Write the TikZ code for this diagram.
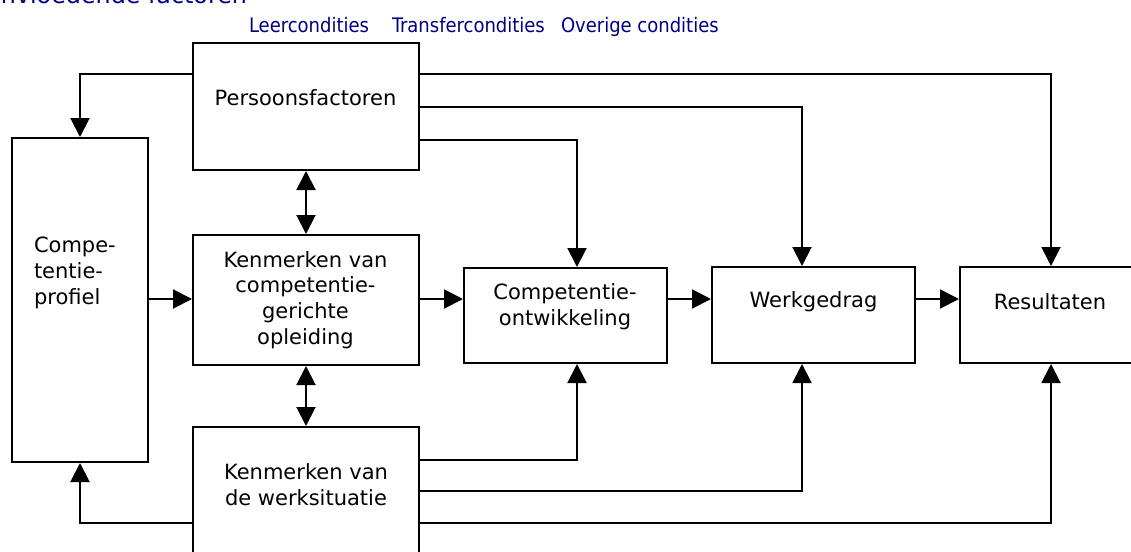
\documentclass[tikz,border=0pt]{standalone}
\usepackage{fontspec}
\setmainfont{DejaVu Sans}
\newfontfamily\smalfont{DejaVu Sans Condensed}
\usetikzlibrary{arrows.meta, positioning}
\usepackage{xcolor}
\definecolor{kopblauw}{RGB}{0,0,128}

\begin{document}
\begin{tikzpicture}[x=1pt, y=-1pt, line width=2pt,
	blok/.style={draw, inner sep=0pt},
	tekst/.style={inner sep=0pt, align=center, font=\fontsize{21}{25.7}\selectfont},
	kop/.style={inner sep=0pt, anchor=base west, text=kopblauw, font=\smalfont\fontsize{20}{24}\selectfont},
	pijl/.style={-{Triangle[length=19pt, width=19pt]}},
	dubbel/.style={{Triangle[length=19pt, width=19pt]}-{Triangle[length=19pt, width=19pt]}}]

	\useasboundingbox (0,0) rectangle (1131,551);

	\node[inner sep=0pt, anchor=base east, text=kopblauw, font=\fontsize{23.8}{28}\selectfont] (titel) at (248,4) {Beïnvloedende factoren};
	\node[kop] (leer) at (248,33) {Leercondities};
	\node[kop] (transfer) at (391,33) {Transfercondities};
	\node[kop] (overig) at (560,33) {Overige condities};

	\node[blok, minimum width=136pt, minimum height=324pt] (cp) at (80,300) {};
	\node[blok, minimum width=226pt, minimum height=127pt] (pf) at (306,106.5) {};
	\node[blok, minimum width=226pt, minimum height=130pt] (ko) at (306,300) {};
	\node[blok, minimum width=226pt, minimum height=153pt] (ws) at (306,503.5) {};
	\node[blok, minimum width=203pt, minimum height=95pt] (co) at (565.5,315.5) {};
	\node[blok, minimum width=203pt, minimum height=96pt] (wg) at (813.5,315) {};
	\node[blok, minimum width=182pt, minimum height=96pt] (re) at (1051,315) {};

	\node[tekst, anchor=west, align=left] (cp-t) at (33,273) {Compe-\\tentie-\\profiel};
	\node[tekst] (pf-t) at (305.5,98) {Persoonsfactoren};
	\node[tekst] (ko-t) at (305.5,300) {Kenmerken van\\competentie-\\gerichte\\opleiding};
	\node[tekst] (ws-t) at (306,485) {Kenmerken van\\de werksituatie};
	\node[tekst] (co-t) at (565,307) {Competentie-\\ontwikkeling};
	\node[tekst] (wg-t) at (813.5,302) {Werkgedrag};
	\node[tekst] (re-t) at (1050,302) {Resultaten};

	\coordinate (y1) at (0,74);
	\coordinate (y2) at (0,107);
	\coordinate (y3) at (0,140);
	\coordinate (ym) at (0,299);
	\coordinate (y5) at (0,460);
	\coordinate (y6) at (0,491);
	\coordinate (y7) at (0,523);
	\coordinate (xco) at (577,0);
	\coordinate (xwg) at (802,0);
	\coordinate (xre) at (1051,0);

	\draw[pijl] (pf.west |- y1) -| (cp.north);
	\draw[pijl] (pf.east |- y1) -| (xre |- re.north);
	\draw[pijl] (pf.east |- y2) -| (xwg |- wg.north);
	\draw[pijl] (pf.east |- y3) -| (xco |- co.north);

	\draw[dubbel] (pf.south) -- (ko.north);
	\draw[dubbel] (ko.south) -- (ws.north);

	\draw[pijl] (cp.east |- ym) -- (ko.west |- ym);
	\draw[pijl] (ko.east |- ym) -- (co.west |- ym);
	\draw[pijl] (co.east |- ym) -- (wg.west |- ym);
	\draw[pijl] (wg.east |- ym) -- (re.west |- ym);

	\draw[pijl] (ws.east |- y5) -| (xco |- co.south);
	\draw[pijl] (ws.east |- y6) -| (xwg |- wg.south);
	\draw[pijl] (ws.east |- y7) -| (xre |- re.south);
	\draw[pijl] (ws.west |- y7) -| (cp.south);
\end{tikzpicture}
\end{document}
